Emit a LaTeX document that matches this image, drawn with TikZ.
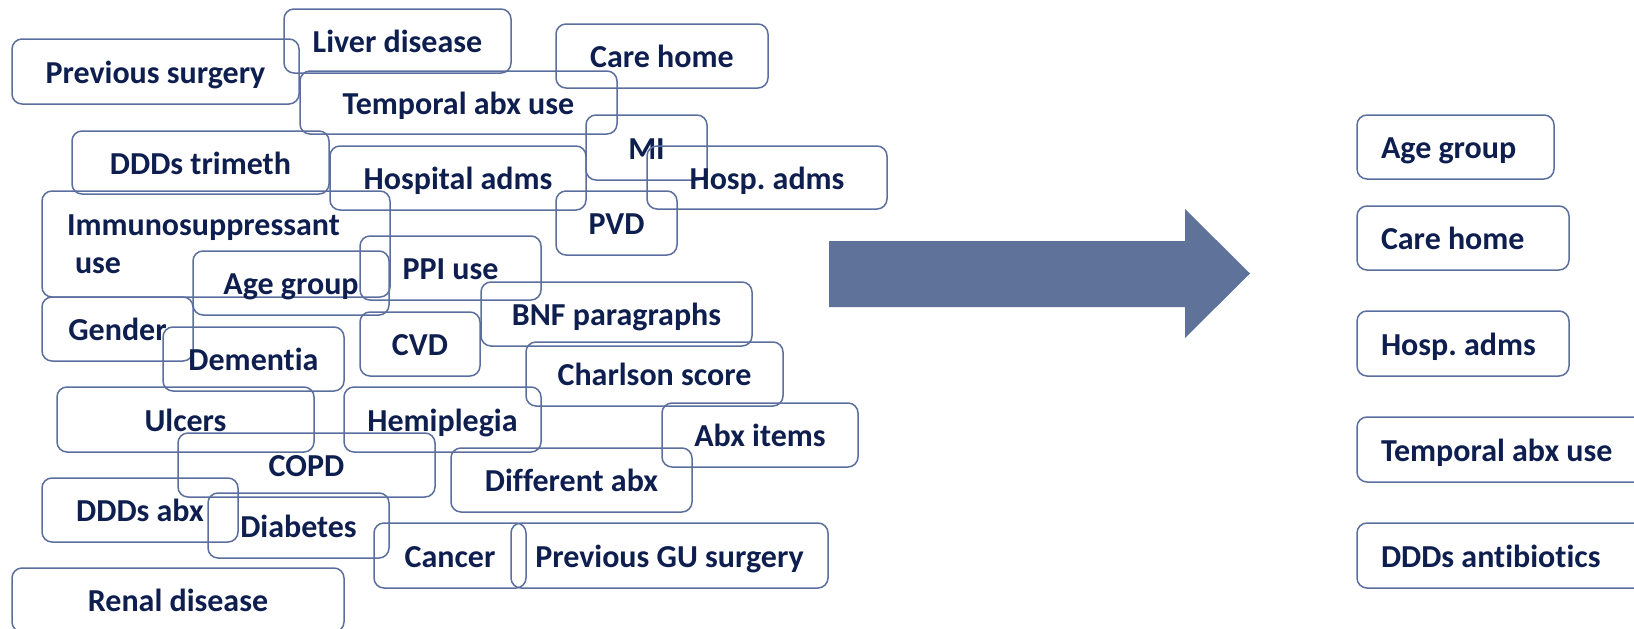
\documentclass[tikz,border=0pt]{standalone}
\usepackage{fontspec}
\setmainfont{Carlito}[Ligatures=NoCommon]
\definecolor{navy}{RGB}{14,30,78}
\definecolor{bord}{RGB}{92,110,158}
\definecolor{arrowfill}{RGB}{95,114,154}
\tikzset{
  box/.style={draw=bord, line width=1.5pt, rounded corners=10pt, text=navy,
    font=\fontsize{32}{38}\selectfont\bfseries\frenchspacing, inner sep=0pt},
  tb/.style={text height=23.5pt, text depth=0pt},
  bigarrow/.style={fill=arrowfill, draw=none}
}
\newcommand{\rbox}[6]{%
  \node[box, tb, minimum width={(#4-#2)*1pt}, minimum height={(#5-#3)*1pt}]
    (#1) at ({(#2+#4)/2},{(#3+#5)/2}) {#6};}
\newcommand{\lbox}[6]{%
  \node[box, tb, align=flush left, inner xsep=24pt, text width={(#4-#2-48)*1pt},
    minimum width={(#4-#2)*1pt}, minimum height={(#5-#3)*1pt}]
    (#1) at ({(#2+#4)/2},{(#3+#5)/2}) {#6};}
\begin{document}
\begin{tikzpicture}[x=1pt,y=-1pt]
\useasboundingbox (0,0) rectangle (1634,629);
\clip (0,0) rectangle (1634,629);
\rbox{prevsurg}{12}{39}{299}{104}{Previous surgery}
\rbox{liver}{284}{9}{511}{73}{Liver disease}
\rbox{temporal}{300}{71}{617}{134}{Temporal abx use}
\rbox{carehome}{556}{24}{768}{88}{Care home}
\rbox{dddstrim}{72}{131}{329}{194}{DDDs trimeth}
\rbox{hospital}{330}{146}{586}{210}{Hospital adms}
\rbox{mi}{586}{115}{707}{180}{MI}
\rbox{hosp}{647}{146}{887}{209}{Hosp. adms}
\rbox{pvd}{556}{191}{677}{255}{PVD}
\node[box, align=flush left, inner xsep=25pt, text width=298pt,
  minimum width=348pt, minimum height=106pt] (immuno) at (216,244)
  {Immunosuppressant\\\hspace*{8pt}use};
\rbox{age}{193}{251}{389}{315}{Age group}
\rbox{ppi}{360}{236}{541}{300}{PPI use}
\rbox{gender}{42}{297}{193}{361}{Gender}
\rbox{dementia}{163}{327}{344}{391}{Dementia}
\rbox{cvd}{360}{312}{480}{376}{CVD}
\rbox{bnf}{481}{282}{752}{346}{BNF paragraphs}
\rbox{charlson}{526}{342}{783}{406}{Charlson score}
\rbox{ulcers}{57}{387}{314}{452}{Ulcers}
\rbox{hemi}{344}{387}{541}{452}{Hemiplegia}
\rbox{abxitems}{662}{403}{858}{467}{Abx items}
\rbox{copd}{178}{433}{435}{497}{COPD}
\rbox{diffabx}{451}{448}{692}{512}{Different abx}
\rbox{dddsabx}{42}{478}{238}{542}{DDDs abx}
\rbox{diabetes}{208}{493}{389}{558}{Diabetes}
\rbox{cancer}{374}{523}{526}{588}{Cancer}
\rbox{prevgu}{511}{523}{828}{588}{Previous GU surgery}
\rbox{renal}{12}{568}{344}{632}{Renal disease}
% arrow
\fill[bigarrow] (829,241) -- (1185,241) -- (1185,209) -- (1250,273.5)
  -- (1185,338) -- (1185,307) -- (829,307) -- cycle;
% selected variables
\lbox{rage}{1357}{115}{1554}{179}{Age group}
\lbox{rcare}{1357}{206}{1569}{270}{Care home}
\lbox{rhosp}{1357}{311}{1569}{376}{Hosp. adms}
\lbox{rtemp}{1357}{417}{1665}{482}{Temporal abx use}
\lbox{rddds}{1357}{523}{1665}{588}{DDDs antibiotics}
\end{tikzpicture}
\end{document}
